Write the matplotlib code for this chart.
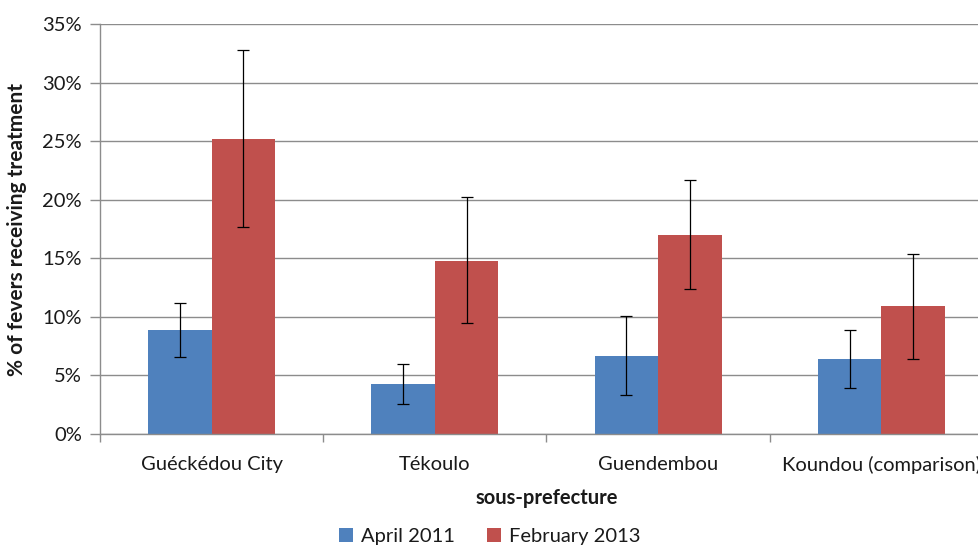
import matplotlib
matplotlib.use("Agg")
import matplotlib.pyplot as plt
import numpy as np
from matplotlib.ticker import PercentFormatter

categories = ["Guéckédou City", "Tékoulo", "Guendembou", "Koundou (comparison)"]
series = ["April 2011", "February 2013"]

april_2011 = [8.9, 4.3, 6.7, 6.4]
april_2011_low = [6.6, 2.6, 3.3, 3.9]
april_2011_high = [11.2, 6.0, 10.1, 8.9]

february_2013 = [25.2, 14.8, 17.0, 10.9]
february_2013_low = [17.7, 9.5, 12.4, 6.4]
february_2013_high = [32.8, 20.2, 21.7, 15.4]

yticks = [0, 5, 10, 15, 20, 25, 30, 35]

BLUE = "#4F81BD"
RED = "#C0504D"
GRID = "#8C8C8C"
TEXT = "#1A1A1A"

plt.rcParams["font.family"] = ["Lato", "DejaVu Sans"]

fig = plt.figure(figsize=(9.79, 5.49), dpi=100)
ax = fig.add_axes([100 / 979, 1 - 434 / 549, 893 / 979, 410 / 549])

x = np.arange(len(categories))
width = 0.284

for offset, vals, low, high, color, label in [
    (-width / 2, april_2011, april_2011_low, april_2011_high, BLUE, series[0]),
    (width / 2, february_2013, february_2013_low, february_2013_high, RED, series[1]),
]:
    vals = np.array(vals)
    yerr = [vals - np.array(low), np.array(high) - vals]
    ax.bar(x + offset, vals, width, color=color, label=label, zorder=2)
    ax.errorbar(x + offset, vals, yerr=yerr, fmt="none", ecolor="black",
                elinewidth=0.9, capsize=4, capthick=0.9, zorder=3)

ax.set_xlim(-0.5, len(categories) - 0.5)
ax.set_ylim(0, 35)
ax.set_yticks(yticks)
ax.yaxis.set_major_formatter(PercentFormatter(decimals=0))
ax.yaxis.grid(True, color=GRID, linewidth=1)
ax.set_axisbelow(True)

ax.set_xticks(x)
ax.set_xticklabels(categories)
ax.set_xticks(np.arange(len(categories) + 1) - 0.5, minor=True)
ax.tick_params(axis="x", which="major", length=0, pad=16, labelsize=14.5, colors=TEXT)
ax.tick_params(axis="x", which="minor", length=6, color=GRID, width=1)
ax.tick_params(axis="y", length=7, color=GRID, width=1, labelsize=14.5, pad=6, labelcolor=TEXT)

for side in ["top", "right"]:
    ax.spines[side].set_visible(False)
for side in ["left", "bottom"]:
    ax.spines[side].set_color(GRID)
    ax.spines[side].set_linewidth(1)

ax.set_ylabel("% of fevers receiving treatment", fontsize=15, fontweight="bold",
              labelpad=11, color=TEXT)
ax.set_xlabel("sous-prefecture", fontsize=14.5, fontweight="bold", labelpad=10, color=TEXT)

fig.legend(loc="lower center", bbox_to_anchor=(490 / 979, -0.025), ncol=2, frameon=False,
           fontsize=14.5, handlelength=0.7, handleheight=0.7, handletextpad=0.4,
           columnspacing=1.6, labelcolor=TEXT)

fig.savefig("out.png", dpi=100)
